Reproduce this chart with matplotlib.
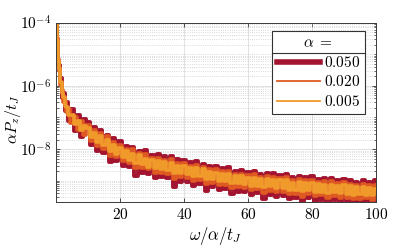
import numpy as np
import matplotlib
matplotlib.use("Agg")
import matplotlib.pyplot as plt
from matplotlib.lines import Line2D
from matplotlib.ticker import LogLocator, NullFormatter, FixedLocator

plt.rcParams['mathtext.fontset'] = 'cm'
plt.rcParams['font.family'] = 'serif'
plt.rcParams['font.serif'] = ['DejaVu Serif']

# omega/alpha/t_J
x = [0.3, 0.4, 0.5, 0.6, 0.8, 1, 1.2, 1.5, 2, 2.5, 3, 3.5, 4, 5, 6, 7, 8, 9] + list(range(10, 101))

# log10(alpha P_z / t_J)
logp_050 = [-3.60, -4.15, -4.62, -4.75, -5.32, -5.35, -5.80, -5.76, -6.38, -6.22, -6.80, -6.50, -7.10, -6.72, -7.42, -6.92, -7.62, -7.06,
            -7.13, -7.88, -7.30, -8.06, -7.38, -8.13, -7.56, -8.41, -7.66, -8.39,
            -7.75, -8.53, -7.91, -8.58, -7.93, -8.84, -8.05, -8.75, -8.04, -8.78,
            -8.18, -8.91, -8.16, -8.89, -8.23, -8.90, -8.21, -9.19, -8.32, -9.03,
            -8.34, -9.04, -8.42, -9.17, -8.39, -9.11, -8.47, -9.31, -8.53, -9.21,
            -8.52, -9.28, -8.60, -9.26, -8.57, -9.41, -8.68, -9.35, -8.66, -9.36,
            -8.71, -9.45, -8.69, -9.40, -8.77, -9.56, -8.76, -9.46, -8.76, -9.50,
            -8.82, -9.49, -8.78, -9.59, -8.88, -9.55, -8.84, -9.75, -8.88, -9.55,
            -8.86, -9.63, -8.93, -9.60, -8.92, -9.71, -8.91, -9.61, -8.97, -9.67,
            -8.93, -9.66, -8.99, -9.74, -9.04, -9.70, -8.98, -9.69, -9.03, -9.75, -8.99]

logp_020 = [-3.68, -4.22, -4.50, -4.90, -5.14, -5.52, -5.60, -5.97, -6.12, -6.50, -6.48, -6.84, -6.74, -7.16, -7.00, -7.40, -7.12, -7.55,
            -7.23, -7.74, -7.40, -7.91, -7.49, -7.99, -7.60, -8.21, -7.78, -8.26,
            -7.88, -8.39, -7.99, -8.43, -8.01, -8.61, -8.13, -8.61, -8.16, -8.63,
            -8.28, -8.75, -8.27, -8.75, -8.34, -8.77, -8.32, -8.93, -8.43, -8.89,
            -8.44, -8.90, -8.52, -9.00, -8.50, -8.97, -8.57, -9.10, -8.63, -9.07,
            -8.63, -9.13, -8.70, -9.13, -8.68, -9.23, -8.78, -9.21, -8.77, -9.22,
            -8.81, -9.29, -8.80, -9.26, -8.87, -9.37, -8.86, -9.32, -8.87, -9.36,
            -8.92, -9.35, -8.89, -9.42, -8.98, -9.41, -8.95, -9.50, -8.98, -9.41,
            -8.97, -9.48, -9.03, -9.46, -9.02, -9.53, -9.02, -9.48, -9.07, -9.53,
            -9.04, -9.53, -9.09, -9.58, -9.14, -9.56, -9.09, -9.55, -9.13, -9.61, -9.13]

logp_005 = [-3.72, -4.25, -4.57, -4.84, -5.22, -5.43, -5.68, -5.88, -6.24, -6.36, -6.64, -6.66, -6.92, -6.92, -7.20, -7.12, -7.40, -7.26,
            -7.32, -7.63, -7.48, -7.79, -7.59, -7.88, -7.71, -8.07, -7.87, -8.15,
            -7.97, -8.25, -8.07, -8.35, -8.14, -8.44, -8.20, -8.47, -8.30, -8.55,
            -8.33, -8.61, -8.39, -8.63, -8.40, -8.66, -8.43, -8.75, -8.52, -8.76,
            -8.54, -8.79, -8.59, -8.86, -8.61, -8.85, -8.64, -8.93, -8.72, -8.95,
            -8.74, -9.00, -8.77, -9.01, -8.78, -9.08, -8.85, -9.08, -8.85, -9.10,
            -8.92, -9.16, -8.91, -9.16, -8.94, -9.21, -8.94, -9.18, -8.99, -9.23,
            -8.99, -9.23, -8.99, -9.28, -9.06, -9.28, -9.05, -9.33, -9.06, -9.30,
            -9.07, -9.34, -9.11, -9.34, -9.12, -9.38, -9.12, -9.36, -9.17, -9.40,
            -9.14, -9.41, -9.18, -9.45, -9.21, -9.43, -9.20, -9.46, -9.23, -9.46, -9.25]

labels = ['0.050', '0.020', '0.005']
colors = ['#A2142F', '#DF5A22', '#F19A2C']
data_lw = [2.8, 2.6, 2.6]
legend_lw = [4.0, 1.3, 1.3]

fig = plt.figure(figsize=(4.15, 2.5), dpi=100)
ax = fig.add_axes([0.135, 0.192, 0.771, 0.718])

for logp, col, lw in zip([logp_050, logp_020, logp_005], colors, data_lw):
    ax.plot(x, 10 ** np.array(logp), color=col, lw=lw, drawstyle='steps-mid')

ax.set_yscale('log')
ax.set_xlim(0, 100)
ax.set_ylim(10 ** -9.67, 1e-4)

ax.xaxis.set_major_locator(FixedLocator([20, 40, 60, 80, 100]))
ax.set_xticklabels(['$20$', '$40$', '$60$', '$80$', '$100$'])
ax.yaxis.set_major_locator(FixedLocator([1e-8, 1e-6, 1e-4]))
ax.set_yticklabels(['$10^{-8}$', '$10^{-6}$', '$10^{-4}$'])
ax.yaxis.set_minor_locator(LogLocator(base=10, subs=np.arange(1, 10), numticks=30))
ax.yaxis.set_minor_formatter(NullFormatter())

ax.tick_params(which='both', direction='in', top=True, right=True, colors='#333333', labelcolor='black', labelsize=11)
ax.tick_params(which='major', length=3, width=0.6)
ax.tick_params(which='minor', length=1.8, width=0.5)
ax.tick_params(axis='x', which='minor', bottom=False, top=False)

ax.grid(True, which='major', color='#dcdcdc', lw=0.6, ls='-')
ax.grid(True, which='minor', axis='y', color='#b8b8b8', lw=0.5, ls=(0, (1, 2.2)))
ax.set_axisbelow(True)
for s in ax.spines.values():
    s.set_color('#3a3a3a')
    s.set_linewidth(0.7)

ax.set_xlabel(r'$\omega/\alpha/t_J$', fontsize=12, labelpad=2)
ax.set_ylabel(r'$\alpha P_z/t_J$', fontsize=11.5)
ax.yaxis.set_label_coords(-0.102, 0.462)

handles = [Line2D([], [], color=c, lw=w) for c, w in zip(colors, legend_lw)]
leg = ax.legend(handles, ['$' + l + '$' for l in labels], title=r'$\alpha\ =$',
                loc='upper right', bbox_to_anchor=(0.966, 0.953), borderaxespad=0,
                fancybox=False, framealpha=1, edgecolor='#333333', fontsize=11,
                title_fontsize=11, handlelength=2.8, handletextpad=0.25,
                labelspacing=0.3, borderpad=0.35)
leg.get_frame().set_linewidth(0.8)

fig.canvas.draw()
r = fig.canvas.get_renderer()
fb = leg.get_frame().get_window_extent(r)
tb = leg.get_title().get_window_extent(r)
ysep = tb.y0 - 3
inv = fig.transFigure.inverted()
p0 = inv.transform((fb.x0, ysep))
p1 = inv.transform((fb.x1, ysep))
fig.add_artist(Line2D([p0[0], p1[0]], [p0[1], p1[1]], transform=fig.transFigure, color='#333333', lw=0.8))

fig.savefig('out.png', dpi=100)
